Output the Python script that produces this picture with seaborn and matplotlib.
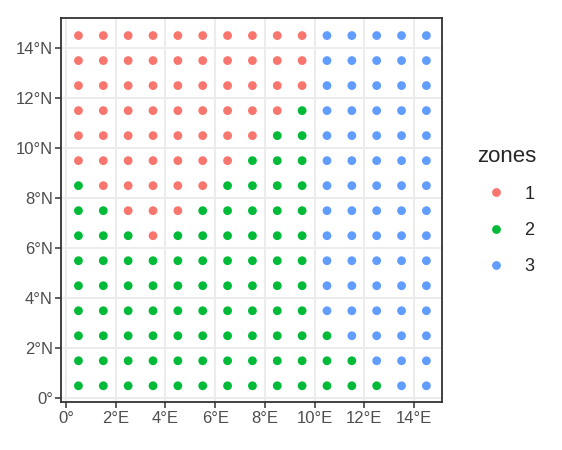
import matplotlib
matplotlib.use("Agg")
import matplotlib.pyplot as plt
import seaborn as sns
import pandas as pd

# grid cell centres
lon_centers = [0.5, 1.5, 2.5, 3.5, 4.5, 5.5, 6.5, 7.5, 8.5, 9.5, 10.5, 11.5, 12.5, 13.5, 14.5]
lat_centers = [14.5, 13.5, 12.5, 11.5, 10.5, 9.5, 8.5, 7.5, 6.5, 5.5, 4.5, 3.5, 2.5, 1.5, 0.5]

# zone of each point, one row per latitude (top row first)
zone_rows = [
    [1, 1, 1, 1, 1, 1, 1, 1, 1, 1, 3, 3, 3, 3, 3],
    [1, 1, 1, 1, 1, 1, 1, 1, 1, 1, 3, 3, 3, 3, 3],
    [1, 1, 1, 1, 1, 1, 1, 1, 1, 1, 3, 3, 3, 3, 3],
    [1, 1, 1, 1, 1, 1, 1, 1, 1, 2, 3, 3, 3, 3, 3],
    [1, 1, 1, 1, 1, 1, 1, 1, 2, 2, 3, 3, 3, 3, 3],
    [1, 1, 1, 1, 1, 1, 1, 2, 2, 2, 3, 3, 3, 3, 3],
    [2, 1, 1, 1, 1, 1, 2, 2, 2, 2, 3, 3, 3, 3, 3],
    [2, 2, 1, 1, 1, 2, 2, 2, 2, 2, 3, 3, 3, 3, 3],
    [2, 2, 2, 1, 2, 2, 2, 2, 2, 2, 3, 3, 3, 3, 3],
    [2, 2, 2, 2, 2, 2, 2, 2, 2, 2, 3, 3, 3, 3, 3],
    [2, 2, 2, 2, 2, 2, 2, 2, 2, 2, 3, 3, 3, 3, 3],
    [2, 2, 2, 2, 2, 2, 2, 2, 2, 2, 3, 3, 3, 3, 3],
    [2, 2, 2, 2, 2, 2, 2, 2, 2, 2, 2, 3, 3, 3, 3],
    [2, 2, 2, 2, 2, 2, 2, 2, 2, 2, 2, 2, 3, 3, 3],
    [2, 2, 2, 2, 2, 2, 2, 2, 2, 2, 2, 2, 2, 3, 3],
]

zone_names = ["1", "2", "3"]
zone_colors = ["#F8766D", "#00BA38", "#619CFF"]

x_ticks = [0, 2, 4, 6, 8, 10, 12, 14]
x_tick_labels = ["0°", "2°E", "4°E", "6°E", "8°E", "10°E", "12°E", "14°E"]
y_ticks = [0, 2, 4, 6, 8, 10, 12, 14]
y_tick_labels = ["0°", "2°N", "4°N", "6°N", "8°N", "10°N", "12°N", "14°N"]

records = []
for lat, row in zip(lat_centers, zone_rows):
    for lon, z in zip(lon_centers, row):
        records.append({"lon": lon, "lat": lat, "zones": str(z)})
df = pd.DataFrame(records)

sns.set_theme(style="white")
plt.rcParams["font.family"] = ["Liberation Sans", "DejaVu Sans"]

fig = plt.figure(figsize=(5.62, 4.5), dpi=100)
ax = fig.add_axes([61.3 / 562, 1 - 402.3 / 450, (442.3 - 61.3) / 562, (402.3 - 18.3) / 450])

sns.scatterplot(data=df, x="lon", y="lat", hue="zones", hue_order=zone_names,
                palette=zone_colors, s=40, linewidth=0, ax=ax, zorder=3)

ax.set_xlim(-0.19, 15.14)
ax.set_ylim(-0.16, 15.19)
ax.set_xticks(x_ticks)
ax.set_xticklabels(x_tick_labels)
ax.set_yticks(y_ticks)
ax.set_yticklabels(y_tick_labels)
ax.set_xlabel("")
ax.set_ylabel("")
ax.grid(True, color="#EBEBEB", linewidth=1.3, zorder=0)
ax.set_axisbelow(True)
ax.set_facecolor("white")
for sp in ax.spines.values():
    sp.set_visible(True)
    sp.set_color("#333333")
    sp.set_linewidth(1.3)
ax.tick_params(axis="both", which="major", length=4, width=1.1, color="#333333",
               labelsize=12, labelcolor="#4D4D4D", pad=2, bottom=True, left=True)

leg = ax.legend(title="zones", loc="center left", bbox_to_anchor=(1.05, 0.5),
                frameon=False, fontsize=13, title_fontsize=16, labelspacing=1.06,
                handletextpad=0.6, markerscale=1.0)
leg._legend_box.align = "left"

fig.savefig("out.png", dpi=100)
